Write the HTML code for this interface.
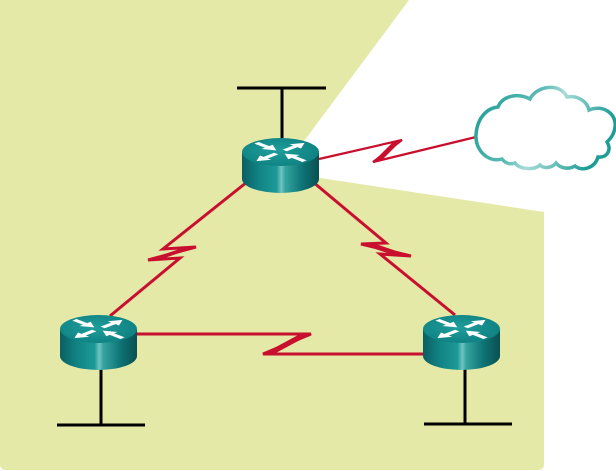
<!DOCTYPE html>
<html><head><meta charset="utf-8"><style>
html,body{margin:0;padding:0;background:#fff;}
svg{display:block;}
</style></head><body>
<svg width="616" height="471" viewBox="0 0 616 471" xmlns="http://www.w3.org/2000/svg">
<defs>
<linearGradient id="body" x1="0" y1="0" x2="1" y2="0">
<stop offset="0" stop-color="#0b5f62"/>
<stop offset="0.22" stop-color="#118384"/>
<stop offset="0.45" stop-color="#1c9a97"/>
<stop offset="0.51" stop-color="#72c4c0"/>
<stop offset="0.56" stop-color="#35a5a1"/>
<stop offset="0.78" stop-color="#0e7475"/>
<stop offset="1" stop-color="#094f52"/>
</linearGradient>
<radialGradient id="topf" cx="0.45" cy="0.45" r="0.6">
<stop offset="0" stop-color="#1e9e9b"/>
<stop offset="1" stop-color="#0f8081"/>
</radialGradient>
<linearGradient id="cl" x1="0" y1="0" x2="1" y2="0.3">
<stop offset="0" stop-color="#149890"/>
<stop offset="0.45" stop-color="#5fbcb6"/>
<stop offset="0.6" stop-color="#a8dcd8"/>
<stop offset="1" stop-color="#1e9d96"/>
</linearGradient>
<g id="router">
<path d="M-38.5,0 L-38.5,27 A38.5,14 0 0 0 38.5,27 L38.5,0 Z" fill="url(#body)"/>
<ellipse cx="0" cy="0" rx="38.5" ry="14" fill="url(#topf)"/>
<g fill="#fff" transform="scale(1,0.38)">
<polygon transform="rotate(45) translate(-34,0)" points="0,-3 15,-3 15,-8 28,0 15,8 15,3 0,3"/>
<polygon transform="rotate(-45) translate(6,0)" points="0,-3 15,-3 15,-8 28,0 15,8 15,3 0,3"/>
<polygon transform="rotate(135) translate(6,0)" points="0,-3 15,-3 15,-8 28,0 15,8 15,3 0,3"/>
<polygon transform="rotate(-135) translate(-34,0)" points="0,-3 15,-3 15,-8 28,0 15,8 15,3 0,3"/>
</g>
</g>
</defs>

<path d="M0,0 L409,0 L281,172 L544,212 L544,464 Q544,470 538,470 L6,470 Q0,470 0,464 Z" fill="#e5e9a8"/>

<g stroke="#000" stroke-width="3" fill="none">
<line x1="282" y1="88" x2="282" y2="145"/>
<line x1="237" y1="88" x2="326" y2="88"/>
<line x1="101" y1="360" x2="101" y2="425"/>
<line x1="57" y1="425" x2="145" y2="425"/>
<line x1="465" y1="360" x2="465" y2="424"/>
<line x1="424" y1="424" x2="512" y2="424"/>
</g>

<g stroke="#c8102e" fill="none" stroke-linejoin="miter">
<polyline stroke-width="3" points="247,182 163,249 196,247 148,260 180,258 110,316"/>
<polyline stroke-width="3" points="313,182 386,243 361,244 411,256 380,254 455,315"/>
<polyline stroke-width="3" points="137,334 311,334 263,354 423,354"/>
<polyline stroke-width="2.2" points="319,159 402,140 373,162 476,137"/>
</g>
<g fill="#c8102e">
<polygon points="196,247 182,248 148,260 162,259"/>
<polygon points="361,244 376,244 411,256 396,256"/>
<polygon points="311,334 300,334 263,354 274,354"/>
<polygon points="402,140 393,142 373,162 382,160"/>
</g>

<use href="#router" transform="translate(280.5,152)"/>
<use href="#router" transform="translate(98.5,329)"/>
<use href="#router" transform="translate(461.5,329)"/>

<path d="M502,159 C488,163 475,150 476,135 C477,118 487,108 498,107 C502,97 516,92 530,99 C536,86 560,82 567,97 C577,95 587,101 589,110 C603,104 617,114 615,127 C614,135 610,139 607,142 C612,150 607,158 598,157 C595,168 582,172 575,166 C568,170 560,168 556,163 C552,168 544,169 540,165 C535,170 520,170 515,163 C510,165 505,163 502,159 Z" fill="#fff" stroke="url(#cl)" stroke-width="3.5"/>
</svg>
</body></html>
